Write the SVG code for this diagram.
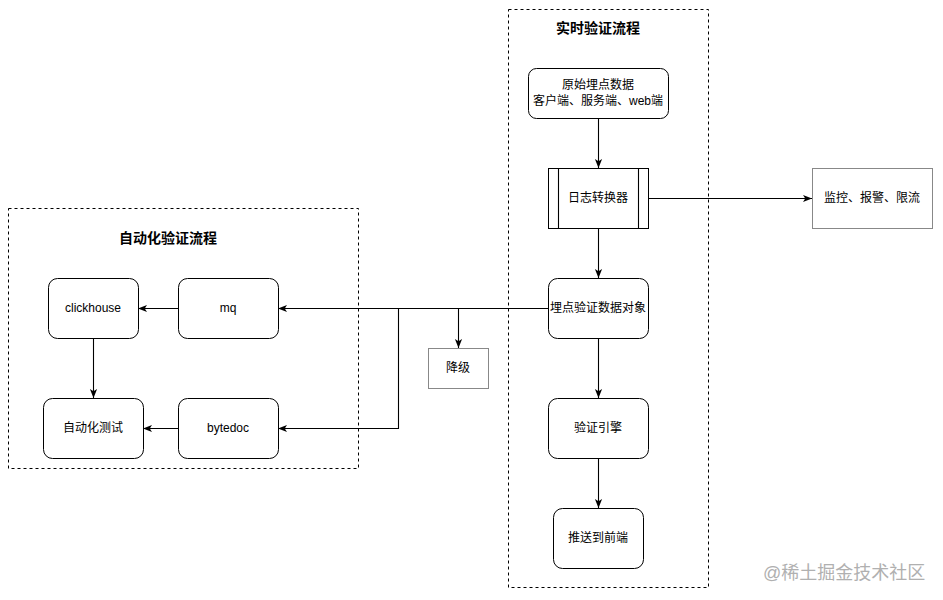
<svg xmlns="http://www.w3.org/2000/svg" width="943" height="600" viewBox="0 0 943 600">
<style>
text{font-family:"Liberation Sans","Noto Sans CJK SC",sans-serif;font-size:12px;fill:#000;text-anchor:middle;dominant-baseline:central}
.title{font-size:14px;font-weight:bold}
.box{fill:#fff;stroke:#000;stroke-width:1}
.gbox{fill:#fff;stroke:#888;stroke-width:1}
.cont{fill:none;stroke:#000;stroke-width:1;stroke-dasharray:3 3}
.edge{fill:none;stroke:#000;stroke-width:1.1}
.wm{font-size:18px;fill:#b0b0b0;text-anchor:start}
</style>
<defs>
<marker id="arr" viewBox="0 0 10 10" refX="10" refY="5" markerWidth="9" markerHeight="9" markerUnits="userSpaceOnUse" orient="auto">
<path d="M0,1 L10,5 L0,9 L2.5,5 Z" fill="#000"/>
</marker>
</defs>
<rect width="943" height="600" fill="#fff"/>

<g id="container-realtime">
<rect class="cont" x="508.5" y="9.5" width="200" height="578"/>
<text class="title" x="598" y="28">实时验证流程</text>
</g>
<g id="container-auto">
<rect class="cont" x="8.5" y="208.5" width="350" height="260"/>
<text class="title" x="168" y="238">自动化验证流程</text>
</g>

<g id="connectors">
<path class="edge" d="M598.5,118 V168" marker-end="url(#arr)"/>
<path class="edge" d="M648,198.5 H812" marker-end="url(#arr)"/>
<path class="edge" d="M598.5,228 V278" marker-end="url(#arr)"/>
<path class="edge" d="M598.5,338 V398" marker-end="url(#arr)"/>
<path class="edge" d="M598.5,458 V508" marker-end="url(#arr)"/>
<path class="edge" d="M548,308.5 H278" marker-end="url(#arr)"/>
<path class="edge" d="M458.5,308.5 V348" marker-end="url(#arr)"/>
<path class="edge" d="M398.5,308.5 V428.5 H278" marker-end="url(#arr)"/>
<path class="edge" d="M178,308.5 H138" marker-end="url(#arr)"/>
<path class="edge" d="M178,428.5 H143" marker-end="url(#arr)"/>
<path class="edge" d="M93.5,338 V398" marker-end="url(#arr)"/>
</g>

<g id="node-raw">
<rect class="box" x="528.5" y="68.5" width="140" height="50" rx="8"/>
<text x="598" y="85">原始埋点数据</text>
<text x="598" y="101">客户端、服务端、web端</text>
</g>
<g id="node-converter">
<rect class="box" x="548.5" y="168.5" width="100" height="60"/>
<path class="edge" d="M558.5,168.5 V228.5 M638.5,168.5 V228.5"/>
<text x="598" y="198">日志转换器</text>
</g>
<g id="node-monitor">
<rect class="gbox" x="812.5" y="168.5" width="120" height="60"/>
<text x="872" y="198">监控、报警、限流</text>
</g>
<g id="node-object">
<rect class="box" x="548.5" y="278.5" width="100" height="60" rx="9"/>
<text x="598" y="308">埋点验证数据对象</text>
</g>
<g id="node-downgrade">
<rect class="gbox" x="428.5" y="348.5" width="60" height="40"/>
<text x="458" y="368">降级</text>
</g>
<g id="node-engine">
<rect class="box" x="548.5" y="398.5" width="100" height="60" rx="9"/>
<text x="598" y="428">验证引擎</text>
</g>
<g id="node-push">
<rect class="box" x="553.5" y="508.5" width="90" height="60" rx="9"/>
<text x="598" y="538">推送到前端</text>
</g>
<g id="node-clickhouse">
<rect class="box" x="48.5" y="278.5" width="90" height="60" rx="9"/>
<text x="93" y="308">clickhouse</text>
</g>
<g id="node-mq">
<rect class="box" x="178.5" y="278.5" width="100" height="60" rx="9"/>
<text x="228" y="308">mq</text>
</g>
<g id="node-autotest">
<rect class="box" x="43.5" y="398.5" width="100" height="60" rx="9"/>
<text x="93" y="428">自动化测试</text>
</g>
<g id="node-bytedoc">
<rect class="box" x="178.5" y="398.5" width="100" height="60" rx="9"/>
<text x="228" y="428">bytedoc</text>
</g>

<text class="wm" x="763" y="573">@稀土掘金技术社区</text>
</svg>
